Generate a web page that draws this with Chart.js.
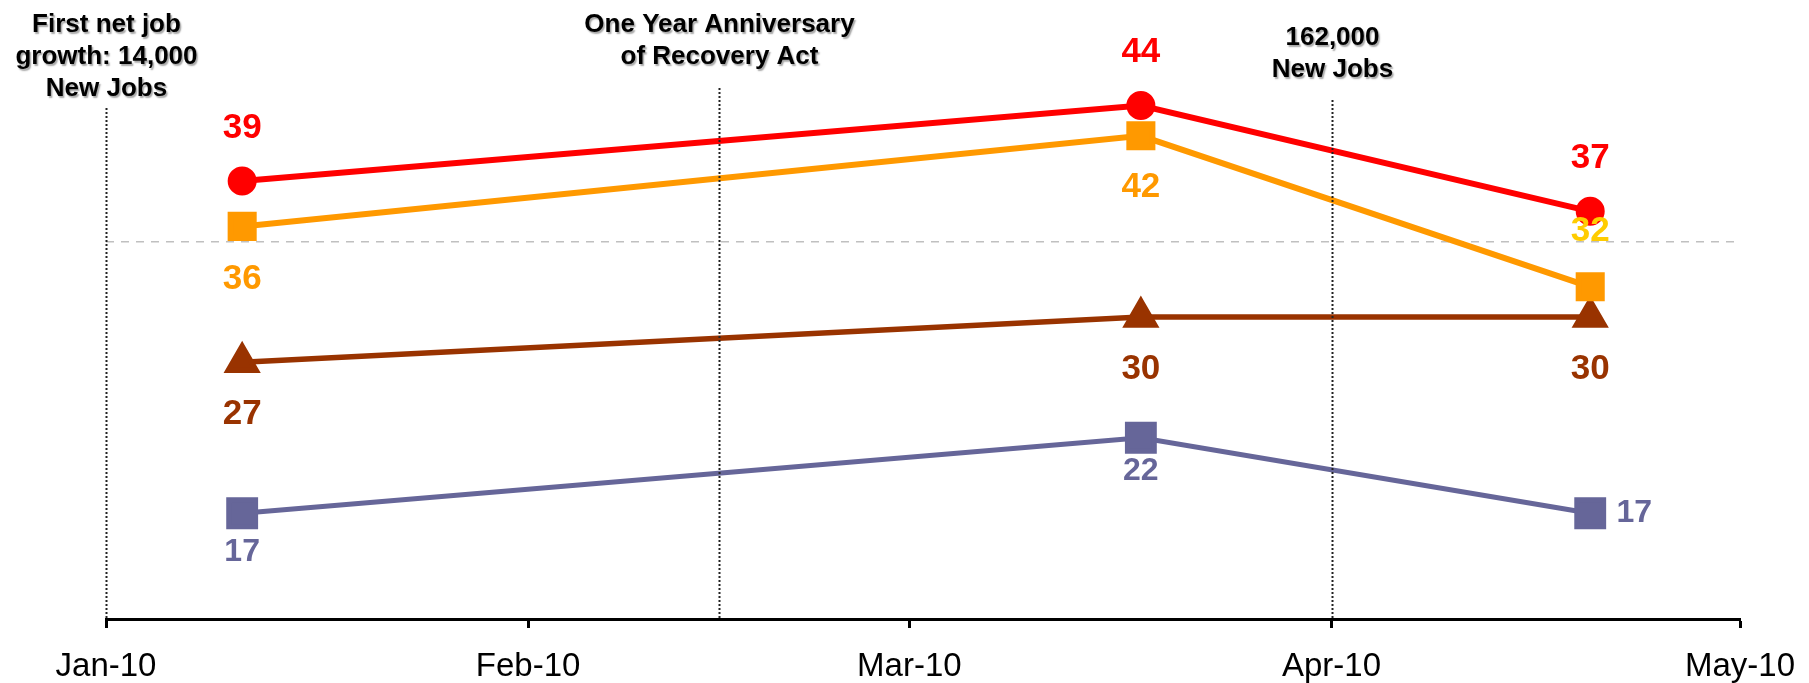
<!DOCTYPE html>
<html>
<head>
<meta charset="utf-8">
<script src="https://cdn.jsdelivr.net/npm/chart.js@4.4.1/dist/chart.umd.min.js"></script>
<style>
    html, body { margin: 0; padding: 0; background: #fff; }
    #wrap { width: 1809px; height: 683px; }
</style>
</head>
<body>
<div id="wrap"><canvas id="lineChart" width="1809" height="683"></canvas></div>
<script>
// Fechas de las encuestas y valores de cada serie
const surveyDates = ['2010-01-11', '2010-03-18', '2010-04-20'];
const redValues = [39, 44, 37];
const orangeValues = [36, 42, 32];
const brownValues = [27, 30, 30];
const purpleValues = [17, 22, 17];

// Eje X: meses
const tickDates = ['2010-01-01', '2010-02-01', '2010-03-01', '2010-04-01', '2010-05-01'];
const tickLabels = ['Jan-10', 'Feb-10', 'Mar-10', 'Apr-10', 'May-10'];

// Eventos marcados con líneas punteadas
const eventDates = ['2010-01-01', '2010-02-15', '2010-04-01'];
const eventLabels = [
    ['First net job', 'growth: 14,000', 'New Jobs'],
    ['One Year Anniversary', 'of Recovery Act'],
    ['162,000', 'New Jobs']
];

// Línea de referencia gris
const refValue = 35;

const FONT = '"Liberation Sans", Arial, sans-serif';

function toPoints(values) {
    return surveyDates.map((d, i) => ({ x: Date.parse(d), y: values[i] }));
}

// Etiquetas de valores junto a cada punto
const valueLabels = {
    id: 'valueLabels',
    afterDatasetsDraw(chart) {
        const ctx = chart.ctx;
        chart.data.datasets.forEach((ds, i) => {
            const meta = chart.getDatasetMeta(i);
            meta.data.forEach((pt, j) => {
                const off = ds.labelOffsets[j];
                ctx.save();
                ctx.font = `bold ${ds.labelSize}px ${FONT}`;
                ctx.fillStyle = ds.labelColors ? ds.labelColors[j] : ds.borderColor;
                ctx.textAlign = 'center';
                ctx.textBaseline = 'middle';
                ctx.fillText(String(ds.data[j].y), pt.x + off[0], pt.y + off[1]);
                ctx.restore();
            });
        });
    }
};

// Líneas punteadas y textos de los eventos
const eventMarks = {
    id: 'eventMarks',
    afterDatasetsDraw(chart, args, opts) {
        const ctx = chart.ctx;
        const xScale = chart.scales.x;
        const bottom = chart.chartArea.bottom;
        eventDates.forEach((d, i) => {
            const x = Math.round(xScale.getPixelForValue(Date.parse(d))) + 0.5;
            ctx.save();
            ctx.strokeStyle = '#222';
            ctx.lineWidth = 2;
            ctx.setLineDash([2, 2]);
            ctx.beginPath();
            ctx.moveTo(x, opts.lineTops[i]);
            ctx.lineTo(x, bottom);
            ctx.stroke();
            ctx.restore();

            ctx.save();
            ctx.font = `bold 26px ${FONT}`;
            ctx.fillStyle = '#000';
            ctx.textAlign = 'center';
            ctx.textBaseline = 'middle';
            ctx.shadowColor = 'rgba(0,0,0,0.35)';
            ctx.shadowOffsetX = 1.5;
            ctx.shadowOffsetY = 1.5;
            ctx.shadowBlur = 1.5;
            eventLabels[i].forEach((line, k) => {
                ctx.fillText(line, x, opts.textTops[i] + k * 32);
            });
            ctx.restore();
        });
    }
};

const ctx = document.getElementById('lineChart').getContext('2d');
new Chart(ctx, {
    type: 'line',
    data: {
        datasets: [
            {
                label: 'Serie roja',
                data: toPoints(redValues),
                borderColor: '#FF0000',
                backgroundColor: '#FF0000',
                borderWidth: 6,
                pointStyle: 'circle',
                pointRadius: 11.5,
                labelSize: 35,
                labelOffsets: [[0, -53], [0, -53], [0, -53]]
            },
            {
                label: 'Serie naranja',
                data: toPoints(orangeValues),
                borderColor: '#FF9900',
                backgroundColor: '#FF9900',
                borderWidth: 6,
                pointStyle: 'rect',
                pointRadius: 16.3,
                labelSize: 35,
                labelColors: ['#FF9900', '#FF9900', '#FFCC00'],
                labelOffsets: [[0, 53], [0, 52], [0, -55]]
            },
            {
                label: 'Serie marrón',
                data: toPoints(brownValues),
                borderColor: '#993300',
                backgroundColor: '#993300',
                borderWidth: 5.5,
                pointStyle: 'triangle',
                pointRadius: 16,
                labelSize: 35,
                labelOffsets: [[0, 52], [0, 52], [0, 52]]
            },
            {
                label: 'Serie morada',
                data: toPoints(purpleValues),
                borderColor: '#666699',
                backgroundColor: '#666699',
                borderWidth: 5,
                pointStyle: 'rect',
                pointRadius: 19,
                labelSize: 32,
                labelOffsets: [[0, 39], [0, 33], [44, 0]]
            }
        ]
    },
    options: {
        responsive: false,
        animation: false,
        devicePixelRatio: 1,
        elements: {
            line: { tension: 0 },
            point: { borderWidth: 0, hoverRadius: 12 }
        },
        layout: { autoPadding: false, padding: { left: 106, right: 69, top: 15, bottom: 0 } },
        scales: {
            x: {
                type: 'linear',
                min: Date.parse(tickDates[0]),
                max: Date.parse(tickDates[tickDates.length - 1]),
                afterBuildTicks: scale => {
                    scale.ticks = tickDates.map(d => ({ value: Date.parse(d) }));
                },
                afterFit: scale => {
                    scale.height = 64;
                    scale.paddingLeft = 0;
                    scale.paddingRight = 0;
                },
                ticks: {
                    autoSkip: false,
                    maxRotation: 0,
                    padding: 19,
                    color: '#000',
                    font: { family: FONT, size: 33 },
                    callback: (value, index) => tickLabels[index]
                },
                grid: {
                    drawOnChartArea: false,
                    drawTicks: true,
                    tickLength: 9,
                    tickWidth: 3,
                    tickColor: '#000'
                },
                border: { display: true, color: '#000', width: 3 }
            },
            y: {
                min: 10,
                max: 50,
                afterBuildTicks: scale => {
                    scale.ticks = [10, refValue, 50].map(v => ({ value: v }));
                },
                afterFit: scale => { scale.width = 0; },
                ticks: { display: false },
                grid: {
                    drawTicks: false,
                    lineWidth: 1.5,
                    color: c => (c.tick && c.tick.value === refValue) ? '#C0C0C0' : 'rgba(0,0,0,0)'
                },
                border: { display: false, dash: [8, 7] }
            }
        },
        plugins: {
            legend: { display: false },
            tooltip: { enabled: false },
            eventMarks: {
                lineTops: [108, 88, 100],
                textTops: [25, 25, 38]
            }
        }
    },
    plugins: [eventMarks, valueLabels]
});
</script>
</body>
</html>
